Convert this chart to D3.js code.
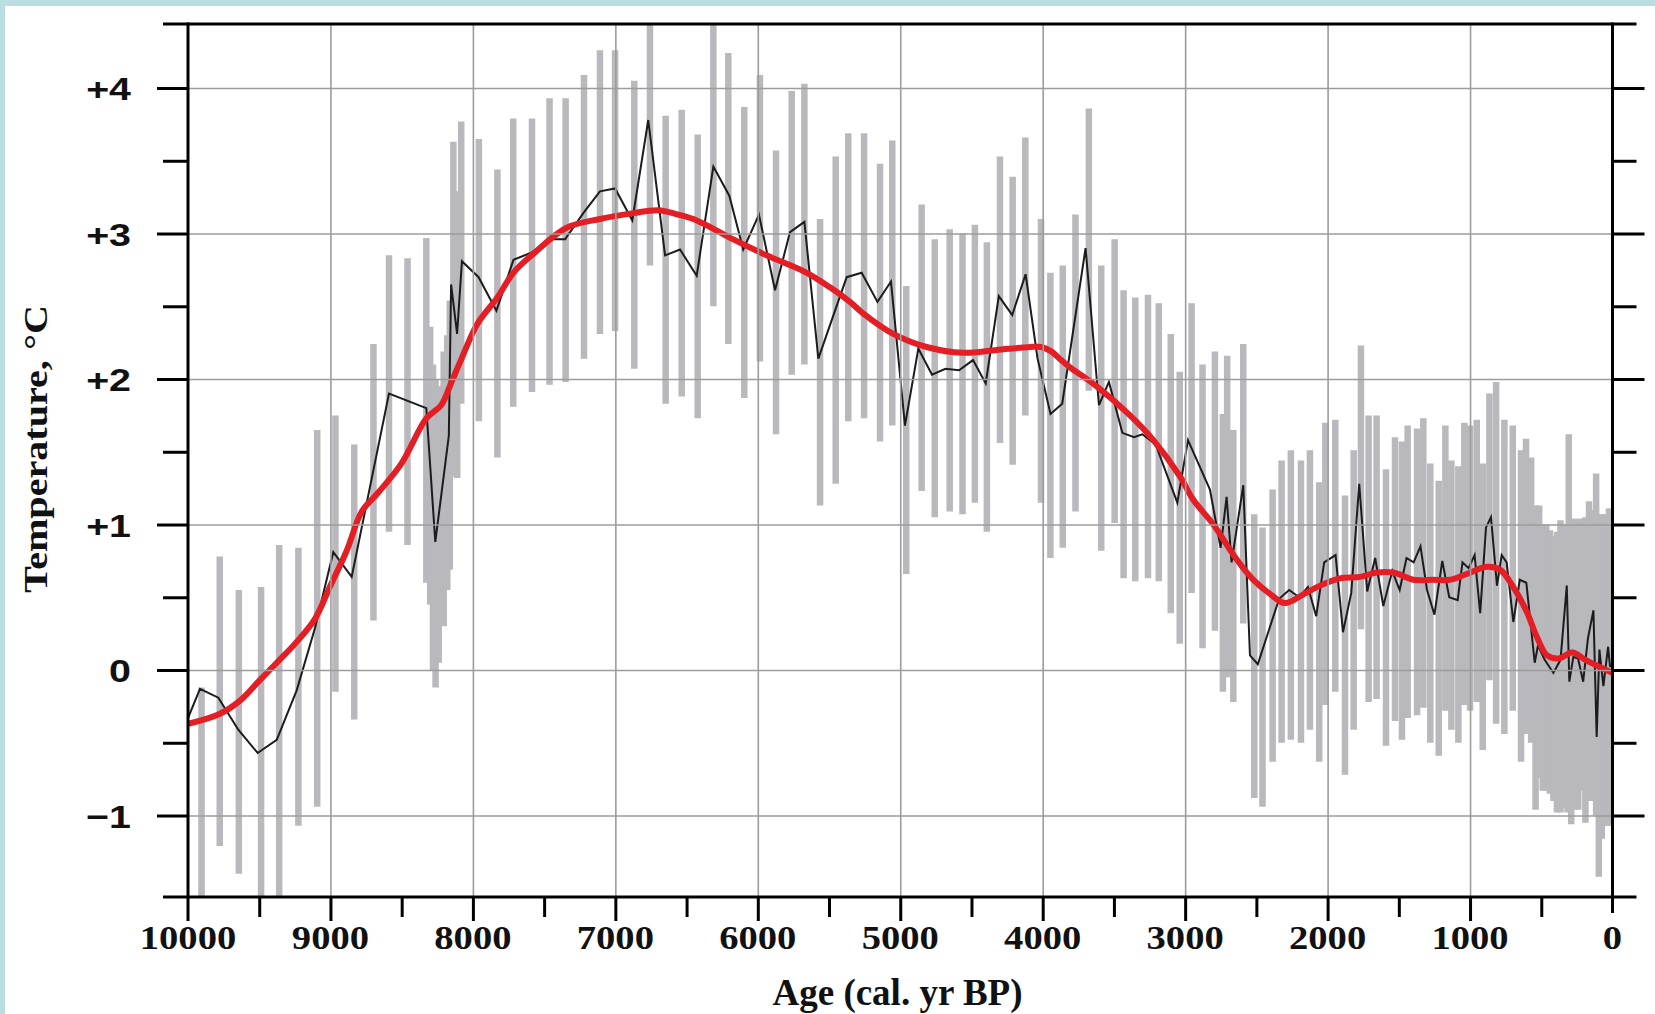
<!DOCTYPE html>
<html><head><meta charset="utf-8">
<script src="https://cdn.jsdelivr.net/npm/d3@7"></script>
<style>html,body{margin:0;padding:0;background:#fff;overflow:hidden} svg{display:block}</style>
</head><body>
<svg id="chart" width="1655" height="1014"></svg>
<script>
// ---------------- DATA ----------------
// gray uncertainty bars: age (cal. yr BP), lower and upper temperature (°C)
const barAge  = [9905,9777,9643,9487,9360,9225,9093,8965,8833,8698,8589,8459,8327,8300,8280,8262,8240,8205,8180,8162,8137,8110,8082,7958,7828,7717,7585,7462,7349,7220,7108,7002,6867,6757,6647,6534,6422,6312,6207,6095,5985,5872,5762,5673,5563,5453,5365,5254,5142,5056,4958,4850,4758,4653,4563,4476,4392,4300,4211,4122,4012,3946,3859,3770,3676,3589,3495,3432,3350,3261,3185,3101,3038,2955,2878,2791,2735,2705,2662,2592,2515,2457,2386,2323,2258,2187,2124,2059,2016,1946,1878,1817,1766,1712,1656,1590,1527,1478,1438,1372,1328,1279,1220,1173,1131,1082,1040,1000,953,911,864,817,759,700,642,607,571,540,515,490,465,440,415,390,365,340,315,307,290,265,240,215,190,165,140,115,96,75,50,25,10];
const barLow  = [-1.9,-1.21,-1.40,-1.9,-1.9,-1.07,-0.94,-0.15,-0.34,0.34,0.95,0.86,0.60,0.45,0.00,-0.12,0.05,0.30,0.55,0.69,1.33,1.32,1.83,1.71,1.46,1.81,1.91,1.96,1.98,2.14,2.31,2.33,2.07,2.78,1.83,1.88,1.73,2.50,2.24,1.87,2.12,1.62,2.03,2.10,1.13,1.28,1.71,1.73,1.57,1.68,0.66,1.23,1.05,1.09,1.07,1.15,0.95,1.56,1.41,1.75,1.15,0.77,0.84,1.09,1.92,0.82,1.01,0.63,0.61,0.63,0.61,0.39,0.18,0.53,0.15,0.27,-0.15,-0.05,-0.22,0.32,-0.88,-0.94,-0.63,-0.50,-0.48,-0.50,-0.41,-0.63,-0.24,-0.15,-0.72,-0.41,0.28,-0.22,-0.20,-0.52,-0.35,-0.48,-0.33,-0.31,-0.26,-0.50,-0.59,-0.28,-0.41,-0.50,-0.24,-0.28,-0.22,-0.55,-0.07,-0.37,-0.44,-0.28,-0.63,-0.44,-0.50,-0.96,-0.74,-0.83,-0.83,-0.85,-0.90,-0.98,-0.98,-0.95,-0.98,-0.90,-1.06,-0.96,-0.96,-0.83,-1.05,-0.90,-0.90,-1.00,-1.42,-1.16,-1.07,-1.07,-1.07];
const barHigh = [-0.12,0.78,0.55,0.57,0.86,0.84,1.65,1.75,1.55,2.24,2.85,2.83,2.97,2.36,2.10,2.00,1.95,2.19,2.30,2.54,3.63,3.29,3.77,3.65,3.44,3.79,3.79,3.93,3.93,4.09,4.26,4.26,4.05,4.6,3.81,3.85,3.68,4.6,4.24,3.87,4.09,3.57,3.98,4.03,3.10,3.53,3.69,3.69,3.48,3.64,2.64,3.20,2.96,3.03,3.00,3.06,2.94,3.53,3.39,3.66,3.10,2.73,2.78,3.13,3.86,2.78,2.96,2.61,2.56,2.58,2.52,2.31,2.05,2.52,2.10,2.19,1.76,2.16,1.65,2.24,1.07,0.98,1.24,1.44,1.51,1.44,1.51,1.29,1.70,1.72,1.20,1.51,2.23,1.75,1.75,1.38,1.60,1.57,1.68,1.66,1.73,1.42,1.30,1.68,1.44,1.40,1.70,1.68,1.72,1.42,1.90,1.98,1.72,1.68,1.51,1.59,1.46,1.13,1.13,1.00,1.00,0.96,0.92,0.95,1.03,1.00,1.00,1.62,1.04,1.04,1.04,1.04,1.05,1.16,1.10,1.35,1.07,1.07,1.07,1.11,1.11];

// black reconstruction line
const lineAge  = [10000,9916,9787,9647,9511,9377,9237,9108,8980,8851,8589,8327,8264,8169,8153,8111,8077,7960,7835,7715,7586,7459,7353,7225,7108,7002,6881,6769,6651,6546,6429,6312,6200,6102,5992,5879,5774,5673,5575,5376,5271,5160,5065,4967,4873,4777,4683,4587,4489,4400,4308,4214,4120,4036,3945,3863,3699,3605,3535,3441,3359,3300,3207,3055,2980,2826,2751,2709,2674,2592,2545,2490,2410,2340,2270,2200,2138,2080,2024,1944,1892,1834,1778,1722,1666,1609,1546,1494,1446,1396,1348,1302,1250,1195,1146,1087,1053,1010,968,929,888,853,811,778,743,696,651,605,546,523,476,415,365,321,303,275,242,206,172,134,111,92,64,31,17];
const lineTemp = [-0.33,-0.13,-0.19,-0.41,-0.57,-0.48,-0.14,0.29,0.81,0.64,1.90,1.80,0.88,1.61,2.65,2.31,2.81,2.70,2.47,2.82,2.87,2.96,2.96,3.14,3.29,3.31,3.09,3.78,2.85,2.89,2.71,3.46,3.26,2.89,3.13,2.61,3.01,3.08,2.14,2.70,2.73,2.53,2.67,1.68,2.21,2.03,2.07,2.06,2.13,1.97,2.57,2.44,2.72,2.14,1.76,1.83,2.90,1.82,1.98,1.63,1.60,1.62,1.55,1.15,1.58,1.24,0.84,1.19,0.74,1.27,0.10,0.04,0.28,0.49,0.55,0.50,0.57,0.37,0.74,0.79,0.26,0.53,1.28,0.54,0.77,0.44,0.68,0.55,0.77,0.74,0.85,0.55,0.38,0.75,0.50,0.48,0.74,0.70,0.79,0.39,0.98,1.05,0.58,0.79,0.74,0.33,0.62,0.60,0.05,0.17,0.07,-0.02,0.07,0.58,-0.08,0.09,0.08,-0.08,0.22,0.41,-0.46,0.14,-0.11,0.16,0.02];

// red smoothed curve
const smoothAge  = [10000,9775,9635,9506,9377,9240,9110,9000,8886,8780,8664,8501,8327,8223,8150,8084,7968,7828,7716,7576,7342,7108,6874,6700,6560,6429,6172,5938,5657,5493,5353,5259,5049,4815,4558,4323,4089,4010,3940,3870,3808,3621,3387,3223,3036,2943,2802,2638,2521,2400,2300,2170,2053,1913,1772,1655,1539,1398,1258,1141,1024,883,790,696,602,532,459,377,283,190,108,0];
const smoothTemp = [-0.37,-0.30,-0.21,-0.08,0.05,0.19,0.35,0.58,0.82,1.09,1.22,1.42,1.73,1.82,1.98,2.13,2.38,2.56,2.73,2.86,3.04,3.10,3.14,3.16,3.13,3.09,2.96,2.85,2.73,2.63,2.53,2.45,2.31,2.22,2.18,2.20,2.22,2.22,2.19,2.13,2.08,1.95,1.75,1.58,1.33,1.17,1.00,0.76,0.62,0.52,0.46,0.52,0.58,0.63,0.64,0.67,0.67,0.62,0.62,0.62,0.66,0.71,0.69,0.57,0.40,0.23,0.10,0.08,0.12,0.07,0.03,-0.02];

// axes
const xMajor = [10000,9000,8000,7000,6000,5000,4000,3000,2000,1000,0];
const xMajorLabels = ["10000","9000","8000","7000","6000","5000","4000","3000","2000","1000","0"];
const xMinor = [9500,8500,7500,6500,5500,4500,3500,2500,1500,500];
const yMajor = [4,3,2,1,0,-1];
const yMajorLabels = ["+4","+3","+2","+1","0","\u22121"];
const yMinor = [3.5,2.5,1.5,0.5,-0.5];
const xTitle = "Age (cal. yr BP)";
const yTitle = "Temperature, \u00B0C";

// ---------------- CHART ----------------
const W = 1655, H = 1014;
const svg = d3.select("#chart");
const x = d3.scaleLinear().domain([10000, 0]).range([188, 1612.5]);
const y = d3.scaleLinear().domain([-1.56, 4.44]).range([897, 24]);
const X0 = x(10000), X1 = x(0), Y0 = y(-1.56), Y1 = y(4.44);

svg.append("rect").attr("width", W).attr("height", H).attr("fill", "#b9dde1");
svg.append("rect").attr("x", 5).attr("y", 6).attr("width", W - 5).attr("height", H - 6).attr("fill", "#ffffff");

svg.append("clipPath").attr("id", "clip").append("rect")
  .attr("x", X0).attr("y", Y1).attr("width", X1 - X0).attr("height", Y0 - Y1);

const plot = svg.append("g").attr("clip-path", "url(#clip)");

// bars
plot.append("g").selectAll("line").data(barAge).join("line")
  .attr("x1", d => x(d)).attr("x2", d => x(d))
  .attr("y1", (d, i) => y(barLow[i])).attr("y2", (d, i) => y(barHigh[i]))
  .attr("stroke", "#b8b8bd").attr("stroke-width", 6.5);

// grid
const gridX = xMajor.filter(d => d !== 10000 && d !== 0);
const gx = svg.append("g").attr("transform", `translate(0,${Y0})`)
  .call(d3.axisBottom(x).tickValues(gridX).tickSize(-(Y0 - Y1)).tickFormat(""));
const gy = svg.append("g").attr("transform", `translate(${X0},0)`)
  .call(d3.axisLeft(y).tickValues(yMajor).tickSize(-(X1 - X0)).tickFormat(""));
[gx, gy].forEach(g => { g.select(".domain").remove(); g.selectAll("line").attr("stroke", "#9c9c9c").attr("stroke-width", 1.6); });

// black line
const blk = d3.line().x((d, i) => x(d)).y((d, i) => y(lineTemp[i]));
plot.append("path").attr("d", blk(lineAge)).attr("fill", "none")
  .attr("stroke", "#1c1c1c").attr("stroke-width", 2).attr("stroke-linejoin", "miter");

// red smooth
const red = d3.line().x((d, i) => x(d)).y((d, i) => y(smoothTemp[i])).curve(d3.curveCatmullRom.alpha(0.5));
plot.append("path").attr("d", red(smoothAge)).attr("fill", "none")
  .attr("stroke", "#e31e25").attr("stroke-width", 6).attr("stroke-linecap", "round").attr("stroke-linejoin", "round");

// ticks
function styleAxis(g) { g.select(".domain").remove(); g.selectAll("line").attr("stroke", "#000").attr("stroke-width", 3); }
svg.append("g").attr("transform", `translate(${X0},0)`).call(d3.axisLeft(y).tickValues(yMajor).tickSize(31).tickFormat("")).call(styleAxis);
svg.append("g").attr("transform", `translate(${X0},0)`).call(d3.axisLeft(y).tickValues(yMinor).tickSize(25).tickFormat("")).call(styleAxis);
svg.append("g").attr("transform", `translate(${X1},0)`).call(d3.axisRight(y).tickValues(yMajor).tickSize(32).tickFormat("")).call(styleAxis);
svg.append("g").attr("transform", `translate(${X1},0)`).call(d3.axisRight(y).tickValues(yMinor).tickSize(24).tickFormat("")).call(styleAxis);
svg.append("g").attr("transform", `translate(0,${Y0})`).call(d3.axisBottom(x).tickValues(gridX).tickSize(24).tickFormat("")).call(styleAxis);
svg.append("g").attr("transform", `translate(0,${Y0})`).call(d3.axisBottom(x).tickValues(xMinor).tickSize(20).tickFormat("")).call(styleAxis);

// frame
const frame = svg.append("g").attr("stroke", "#000").attr("stroke-width", 3);
frame.append("line").attr("x1", X0 - 25).attr("x2", X1 + 24).attr("y1", Y1).attr("y2", Y1);
frame.append("line").attr("x1", X0 - 25).attr("x2", X1 + 24).attr("y1", Y0).attr("y2", Y0);
frame.append("line").attr("x1", X0).attr("x2", X0).attr("y1", Y1 - 1.5).attr("y2", Y0 + 24);
frame.append("line").attr("x1", X1).attr("x2", X1).attr("y1", Y1 - 1.5).attr("y2", Y0 + 16);

// tick labels
svg.append("g").selectAll("text").data(yMajor).join("text")
  .attr("transform", d => `translate(131,${y(d) + 12}) scale(1.23,1)`)
  .attr("text-anchor", "end")
  .style("font-family", "'Liberation Sans', Arial, sans-serif").style("font-weight", "bold").style("font-size", "32px")
  .attr("fill", "#111")
  .text((d, i) => yMajorLabels[i]);

svg.append("g").selectAll("text").data(xMajor).join("text")
  .attr("transform", d => `translate(${x(d)},949) scale(1.17,1)`)
  .attr("text-anchor", "middle")
  .style("font-family", "'Liberation Serif', 'Times New Roman', serif").style("font-weight", "bold").style("font-size", "33px")
  .attr("fill", "#111")
  .text((d, i) => xMajorLabels[i]);

// titles
svg.append("text").attr("transform", "translate(897.5,1005)").attr("text-anchor", "middle")
  .style("font-family", "'Liberation Serif', 'Times New Roman', serif").style("font-weight", "bold").style("font-size", "37px")
  .attr("fill", "#111").text(xTitle);
svg.append("text").attr("transform", "translate(47,449) rotate(-90) scale(1.18,1)").attr("text-anchor", "middle")
  .style("font-family", "'Liberation Serif', 'Times New Roman', serif").style("font-weight", "bold").style("font-size", "34px")
  .attr("fill", "#111").text(yTitle);
</script>
</body></html>
